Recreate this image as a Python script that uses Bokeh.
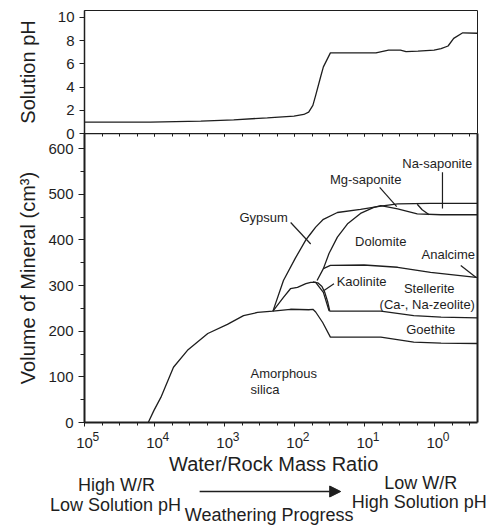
from bokeh.plotting import figure
from bokeh.layouts import column
from bokeh.models import Range1d, LinearAxis, FixedTicker, Arrow, NormalHead
from bokeh.core.properties import value
from bokeh.embed import file_html
from bokeh.resources import INLINE

# ---------------- data (x = log10 of Water/Rock mass ratio) ----------------
ph_logwr = [5.0, 4.06, 3.34, 2.87, 2.39, 2.01, 1.87, 1.80, 1.74, 1.70, 1.63, 1.59, 1.49,
            0.84, 0.66, 0.49, 0.41, 0.24, 0.01, -0.09, -0.19, -0.27, -0.40, -0.61]
ph_value = [0.98, 0.98, 1.07, 1.18, 1.35, 1.50, 1.64, 1.84, 2.42, 3.29, 4.87, 5.74, 6.95,
            6.95, 7.19, 7.19, 7.05, 7.10, 7.19, 7.31, 7.54, 8.20, 8.68, 8.64]

# cumulative volume boundaries (cm3)
silica_x = [4.09, 4.01, 3.91, 3.73, 3.53, 3.24, 2.96, 2.73, 2.53, 2.31, 2.06, 1.80, 1.74,
            1.70, 1.60, 1.49, 1.01, 0.77, 0.30, -0.09, -0.61]
silica_v = [0, 26, 55, 121, 158, 195, 215, 234, 241, 244, 248, 247, 248,
            242, 219, 187, 187, 187, 176, 174, 173]

goethite_x = [2.31, 2.16, 2.06, 1.96, 1.84, 1.77, 1.70, 1.64, 1.59, 1.51, 1.49, 1.01, 0.77,
              0.30, -0.09, -0.61]
goethite_v = [244, 274, 293, 296, 304, 307, 307, 295, 285, 245, 244, 244, 244,
              234, 231, 229]

kaolinite_x = [1.74, 1.67, 1.61, 1.57, 1.53, 1.50]
kaolinite_v = [308, 306, 298, 285, 265, 245]

stellerite_x = [1.68, 1.59, 1.49, 1.01, 0.53, 0.06, -0.59, -0.61]
stellerite_v = [311, 337, 344, 345, 340, 329, 318, 318]

dolomite_x = [1.59, 1.51, 1.39, 1.24, 1.06, 0.87, 0.77, 0.53, 0.25, -0.09, -0.61]
dolomite_v = [337, 370, 406, 436, 458, 471, 475, 468, 457, 455, 455]

total_x = [2.31, 2.16, 1.99, 1.84, 1.77, 1.70, 1.59, 1.39, 1.06, 0.77, 0.53, 0.06, -0.61]
total_v = [244, 311, 360, 400, 414, 428, 445, 460, 467, 474, 479, 480, 480]

nasap_x = [0.25, 0.18, 0.08]
nasap_v = [478, 466, 455]

# mineral names and their pointer lines
mineral_names = ["Gypsum", "Mg-saponite", "Na-saponite", "Dolomite", "Analcime", "Kaolinite",
                 "Stellerite", "(Ca-, Na-zeolite)", "Goethite", "Amorphous", "silica"]
pointer_x0 = [2.057, 0.786, -0.11, -0.371, 1.439]
pointer_v0 = [438, 515, 548, 344, 304]
pointer_x1 = [1.771, 0.543, -0.11, -0.586, 1.581]
pointer_v1 = [391, 473, 469, 318, 289]

major_ticks = [5, 4, 3, 2, 1, 0]
tick_base = ["10", "10", "10", "10", "10", "10"]
tick_exp = ["5", "4", "3", "2", "1", "0"]
ph_ticks = [0, 2, 4, 6, 8, 10]
vol_ticks = [0, 100, 200, 300, 400, 500, 600]
vol_minor = [50, 150, 250, 350, 450, 550]

bottom_texts = ["High W/R", "Low Solution pH", "Low W/R", "High Solution pH",
                "Weathering Progress"]

# ---------------- styling / layout constants ----------------
FONT = "Liberation Sans"
INK = "#1e1e1e"
LEFT, RIGHT, DEC = 84, 13, 70.0          # frame border px, px per decade
X0, X1 = 5.0, -0.61
minor_x = [5 - 0.25 * k for k in range(0, 23)]

xr = Range1d(X0, X1)


def style_left(ax, label, standoff, ticks, minor, tick_out, minor_out, lw):
    ax.ticker = FixedTicker(ticks=ticks, minor_ticks=minor)
    ax.axis_label = label
    ax.axis_label_text_font = FONT
    ax.axis_label_text_font_size = "20px"
    ax.axis_label_text_font_style = "normal"
    ax.axis_label_text_color = INK
    ax.axis_label_standoff = standoff
    ax.major_label_text_font = FONT
    ax.major_label_text_font_size = "15px"
    ax.major_label_text_color = INK
    ax.major_label_standoff = 5
    ax.major_tick_out = tick_out
    ax.major_tick_in = 0
    ax.minor_tick_out = minor_out
    ax.minor_tick_in = 0
    ax.axis_line_width = lw
    ax.axis_line_color = INK
    ax.major_tick_line_color = INK
    ax.minor_tick_line_color = INK


# ---------------- top panel: pH ----------------
p1 = figure(width=490, height=140, x_range=xr, y_range=Range1d(0, 10.6),
            output_backend="svg", toolbar_location=None, x_axis_location=None,
            min_border_left=LEFT, min_border_right=RIGHT, min_border_top=10,
            min_border_bottom=7)
p1.outline_line_color = INK
p1.outline_line_width = 1
p1.grid.visible = False
style_left(p1.yaxis[0], "Solution pH", 16, ph_ticks, [], 5, 0, 1.5)
p1.line(ph_logwr, ph_value, line_color=INK, line_width=1.3)

# ---------------- bottom panel: mineral volumes ----------------
p2 = figure(width=490, height=301, x_range=xr, y_range=Range1d(0, 633),
            output_backend="svg", toolbar_location=None,
            min_border_left=LEFT, min_border_right=RIGHT, min_border_top=0,
            min_border_bottom=12)
p2.styles = {"margin-top": "-7px"}
p2.background_fill_color = None
p2.border_fill_color = None
p2.outline_line_color = None
p2.grid.visible = False
style_left(p2.yaxis[0], "Volume of Mineral (cm³)", 6, vol_ticks, vol_minor, 6, 4, 2)

xa = p2.xaxis[0]
xa.ticker = FixedTicker(ticks=major_ticks, minor_ticks=minor_x)
xa.major_label_overrides = {t: "" for t in major_ticks}
xa.major_label_text_font_size = "0px"
xa.major_label_standoff = 0
xa.major_tick_out = 4
xa.major_tick_in = 0
xa.minor_tick_out = 3
xa.minor_tick_in = 0
xa.axis_line_width = 2
xa.axis_line_color = INK
xa.major_tick_line_color = INK
xa.minor_tick_line_color = INK

top_ax = LinearAxis(ticker=FixedTicker(ticks=major_ticks, minor_ticks=minor_x),
                    major_label_overrides={t: "" for t in major_ticks},
                    major_label_text_font_size="0px", major_label_standoff=0,
                    major_tick_in=3, major_tick_out=0, minor_tick_in=3, minor_tick_out=0,
                    axis_line_width=1.5, axis_line_color=INK,
                    major_tick_line_color=INK, minor_tick_line_color=INK)
p2.add_layout(top_ax, "above")
right_ax = LinearAxis(ticker=FixedTicker(ticks=[], minor_ticks=[]),
                      major_label_text_font_size="0px", major_label_standoff=0,
                      major_tick_in=0, major_tick_out=0, minor_tick_in=0, minor_tick_out=0,
                      axis_line_width=2, axis_line_color=INK)
p2.add_layout(right_ax, "right")

for xs, vs in [(silica_x, silica_v), (goethite_x, goethite_v), (kaolinite_x, kaolinite_v),
               (stellerite_x, stellerite_v), (dolomite_x, dolomite_v),
               (total_x, total_v), (nasap_x, nasap_v)]:
    p2.line(xs, vs, line_color=INK, line_width=1.3)

p2.segment(pointer_x0, pointer_v0, pointer_x1, pointer_v1, line_color=INK, line_width=1.2)

label_x = [2.443, 0.986, -0.036, 0.771, -0.193, 1.40, 0.079, 0.107, 0.057, 2.629, 2.629]
label_v = [448, 532, 567, 396, 368, 309, 293, 259, 204, 108, 73]
label_align = ["center", "center", "center", "center", "center", "left",
               "center", "center", "center", "left", "left"]
p2.text(x=label_x, y=label_v, text=mineral_names, text_align=label_align,
        text_baseline="middle", text_font=value(FONT), text_font_size="13px",
        text_color=INK)

# ---------------- strip below: tick labels, axis title, progress note ----------------
# same horizontal scale as the panels, but its frame spans the whole width
xr3 = Range1d(X0 + LEFT / DEC, X1 - RIGHT / DEC)
p3 = figure(width=490, height=98, x_range=xr3, y_range=Range1d(525, 427),
            output_backend="svg", toolbar_location=None,
            x_axis_location=None, y_axis_location=None,
            min_border_left=0, min_border_right=0, min_border_top=0, min_border_bottom=0)
p3.frame_align = False
p3.styles = {"margin-top": "-7px"}
p3.background_fill_color = None
p3.border_fill_color = None
p3.outline_line_color = None
p3.grid.visible = False

p3.text(x=major_ticks, y=[442] * 6, text=tick_base, text_align="center",
        text_baseline="alphabetic", text_font=value(FONT), text_font_size="15px",
        text_color=INK)
p3.text(x=major_ticks, y=[436] * 6, text=tick_exp, text_align="left", x_offset=8,
        text_baseline="alphabetic", text_font=value(FONT), text_font_size="12px",
        text_color=INK)

p3.text(x=[2.3], y=[463], text=["Water/Rock Mass Ratio"],
        text_align="center", text_baseline="alphabetic", text_font=value(FONT),
        text_font_size="20px", text_color=INK)

p3.text(x=[4.543, 4.557, 0.20, 0.221, 2.364], y=[484, 504, 482, 501, 514],
        text=bottom_texts, text_align="center", text_baseline="alphabetic",
        text_font=value(FONT), text_font_size="18px", text_color=INK)

p3.add_layout(Arrow(end=NormalHead(size=11, fill_color=INK, line_color=INK),
                    x_start=3.357, y_start=491, x_end=1.343, y_end=491,
                    line_width=1.5, line_color=INK))

layout = column(p1, p2, p3, spacing=0)
open("out.html", "w").write(file_html(layout, INLINE))
